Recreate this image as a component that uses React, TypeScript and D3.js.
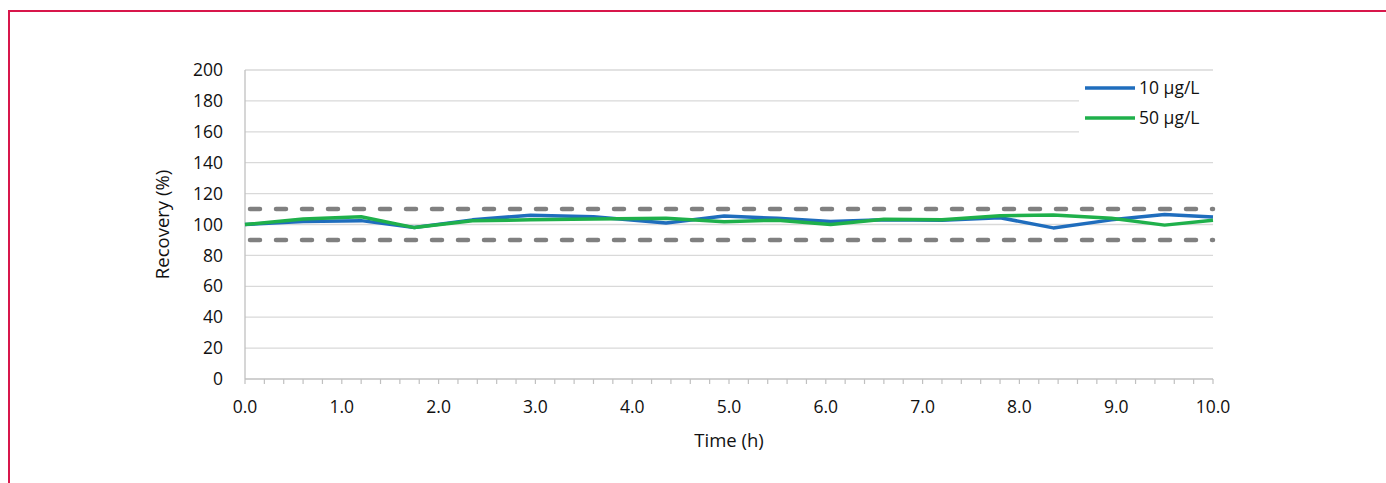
import React from 'react'
import * as d3 from 'd3'

const times = [0, 0.6, 1.2, 1.75, 2.35, 2.95, 3.6, 4.35, 4.95, 5.5, 6.05, 6.6, 7.2, 7.8, 8.35, 8.95, 9.5, 10]
const conc10 = [100, 102, 102.5, 98, 103, 106, 105, 101, 105.5, 104, 102, 103, 102.8, 104.4, 97.8, 103, 106.5, 104.8]
const conc50 = [100, 103.5, 105, 98, 102.5, 103, 103.5, 104, 101.8, 102.8, 100, 103.4, 103, 105.7, 106.1, 104, 99.6, 102.8]
const series = [
  { name: '10 µg/L', values: conc10, color: '#1f6dbd' },
  { name: '50 µg/L', values: conc50, color: '#1fb04b' },
]
const limits = [90, 110]
const yTicks = d3.range(0, 201, 20)
const xTicks = d3.range(0, 11, 1)
const xMinor = d3.range(0, 10.01, 0.2)

const W = 1386
const H = 483
const margin = { top: 70, right: 173, bottom: 104, left: 245 }
const font = "'Open Sans', 'Liberation Sans', sans-serif"

export default function App() {
  const x = d3.scaleLinear().domain([0, 10]).range([margin.left, W - margin.right])
  const y = d3.scaleLinear().domain([0, 200]).range([H - margin.bottom, margin.top])

  const line = d3.line<number>()
    .x((_, i) => x(times[i]))
    .y(d => y(d))

  return (
    <svg width={W} height={H} style={{ position: 'absolute', left: 0, top: 0, background: '#fff' }}>
      <rect x={9} y={11} width={1400} height={500} fill="none" stroke="#d8174b" strokeWidth={2} />

      {yTicks.map(t => (
        <g key={t}>
          <line x1={x(0)} x2={x(10)} y1={y(t)} y2={y(t)} stroke={t === 0 ? '#c0c0c0' : '#d9d9d9'} strokeWidth={1.3} />
          <text x={223} y={y(t)} dy="0.35em" textAnchor="end" fontSize={17.5} fontFamily={font} fill="#111">{t}</text>
        </g>
      ))}
      <line x1={x(0)} x2={x(0)} y1={y(200)} y2={y(0)} stroke="#c0c0c0" strokeWidth={1.3} />

      {xMinor.map((t, i) => (
        <line key={i} x1={x(t)} x2={x(t)} y1={y(0)} y2={y(0) + 5} stroke="#c0c0c0" strokeWidth={1.2} />
      ))}
      {xTicks.map(t => (
        <text key={t} x={x(t)} y={y(0) + 34} textAnchor="middle" fontSize={17.5} fontFamily={font} fill="#111">{t.toFixed(1)}</text>
      ))}

      {limits.map(l => (
        <line key={l} x1={x(0) + 5} x2={x(10)} y1={y(l)} y2={y(l)} stroke="#808080" strokeWidth={4.5}
          strokeDasharray="10 16" strokeLinecap="round" />
      ))}

      {series.map(s => (
        <path key={s.name} d={line(s.values) || ''} fill="none" stroke={s.color} strokeWidth={3.5} strokeLinejoin="round" />
      ))}

      <text x={(x(0) + x(10)) / 2} y={447} textAnchor="middle" fontSize={18.5} fontFamily={font} fill="#111">Time (h)</text>
      <text transform={`translate(169,${y(100)}) rotate(-90)`} textAnchor="middle" fontSize={18.5} fontFamily={font} fill="#111">Recovery (%)</text>

      <rect x={1079} y={77} width={134} height={56} fill="#fff" />
      {series.map((s, i) => (
        <g key={s.name} transform={`translate(1085,${88 + i * 30})`}>
          <line x1={0} x2={50} y1={0} y2={0} stroke={s.color} strokeWidth={3.5} />
          <text x={54} y={0} dy="0.35em" fontSize={17.5} fontFamily={font} fill="#111">{s.name}</text>
        </g>
      ))}
    </svg>
  )
}
